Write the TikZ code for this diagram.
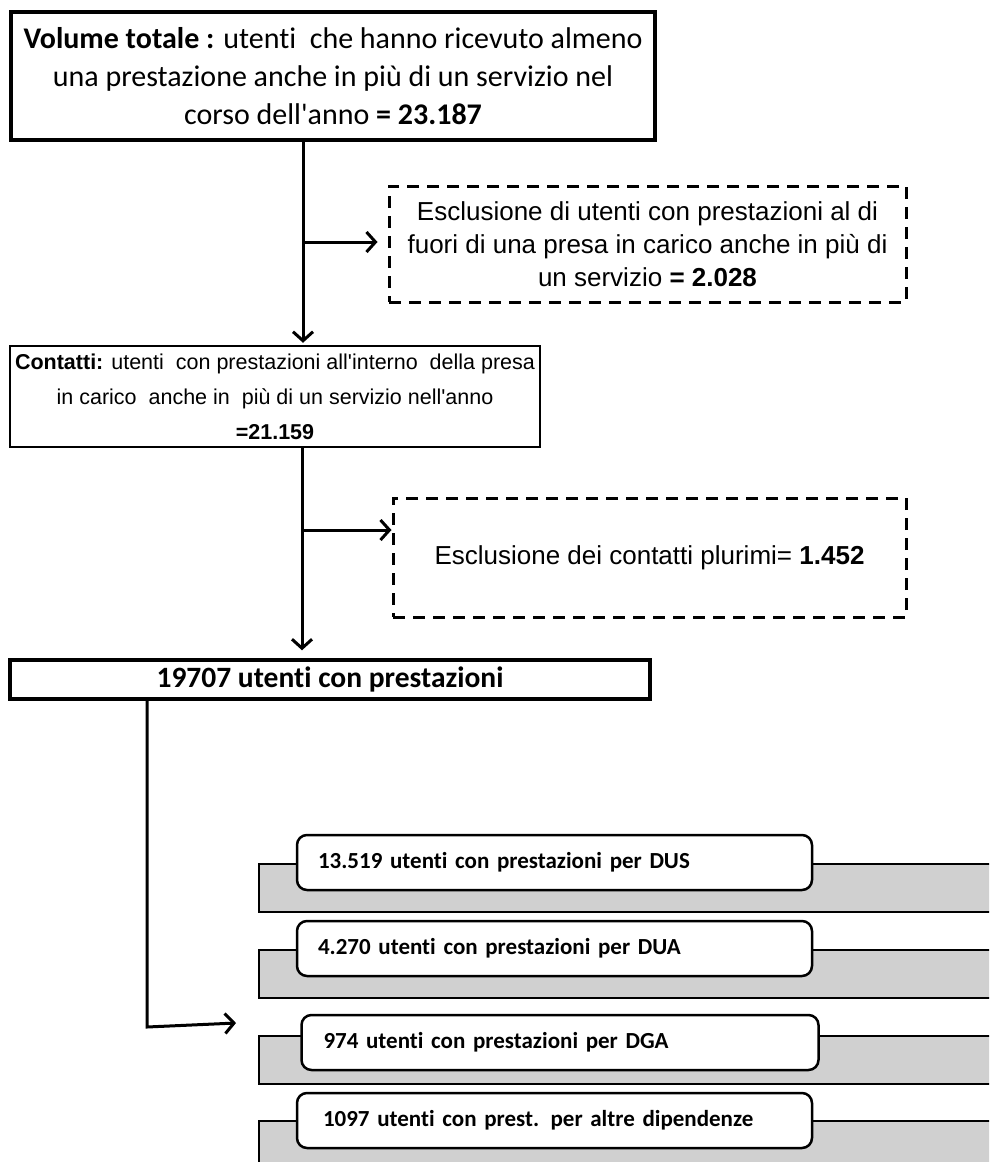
\documentclass[tikz,border=0pt]{standalone}
\usepackage{fontspec}
\setmainfont{Carlito}[Ligatures=NoCommon]
\newfontfamily\arialf{Liberation Sans}
\usetikzlibrary{arrows.meta}
\definecolor{barg}{HTML}{D0D0D0}
\begin{document}
\begin{tikzpicture}[x=1pt,y=-1pt]
\tikzset{
 mainbox/.style={draw, line width=3.5pt, inner sep=0pt, align=center},
 dashbox/.style={draw, line width=3pt, dash pattern=on 12pt off 8pt, inner sep=0pt, align=center, font=\arialf\fontsize{26}{33}\selectfont},
 flow/.style={line width=3pt, -{Straight Barb[length=9pt,width=20pt,line width=3pt]}},
 lab/.style={draw, line width=2.5pt, fill=white, rounded corners=10pt, minimum height=55pt, text width=473pt, align=left, inner sep=0pt, font=\bfseries\fontsize{23}{26}\selectfont},
 bar/.style={draw, line width=2pt, fill=barg, minimum width=740pt, minimum height=48pt, inner sep=0pt, anchor=north west},
}
\useasboundingbox (0,0) rectangle (989,1162);
\fill[white] (0,0) rectangle (989,1162);
\clip (0,0) rectangle (989,1162);

% top boxes
\node[mainbox, minimum width=644pt, minimum height=128pt, font=\fontsize{30}{38}\selectfont] (vol) at (333,76)
 {\textbf{Volume totale :} utenti\ \ che hanno ricevuto almeno\\una prestazione anche in più di un servizio nel\\corso dell\textquotesingle anno \textbf{= 23.187}};
\node[dashbox, minimum width=517pt, minimum height=116pt] (ex1) at (647.5,244)
 {Esclusione di utenti con prestazioni al di\\fuori di una presa in carico anche in più di\\un servizio \textbf{= 2.028}};
\node[mainbox, line width=2.5pt, minimum width=530pt, minimum height=101pt, font=\arialf\fontsize{21.5}{35}\selectfont] (con) at (275,396.5)
 {\textbf{Contatti:} utenti\ \ con prestazioni all'interno\ \ della presa\\in carico\ \ anche in\ \ più di un servizio nell'anno\\\textbf{=21.159}};
\node[dashbox, minimum width=513pt, minimum height=119pt] (ex2) at (649.5,557.5)
 {Esclusione dei contatti plurimi= \textbf{1.452}};
\node[mainbox, minimum width=640pt, minimum height=39pt, font=\bfseries\fontsize{29.5}{32}\selectfont] (tot) at (330,679.5)
 {19707 utenti con prestazioni};

% bars and labels
\node[bar] (bar1) at (258,863) {};
\node[bar] (bar2) at (258,949) {};
\node[bar] (bar3) at (258,1035) {};
\node[bar] (bar4) at (258,1120) {};
\node[lab, minimum width=515pt] (dus) at (554.5,862.5) {13.519 utenti con prestazioni per DUS};
\node[lab, minimum width=515pt] (dua) at (554.5,948.5) {4.270 utenti con prestazioni per DUA};
\node[lab, minimum width=517pt] (dga) at (560,1042.5) {974 utenti con prestazioni per DGA};
\node[lab, minimum width=515pt, text width=463pt] (alt) at (554.5,1120.5) {1097 utenti con prest. per altre dipendenze};

% connectors
\coordinate (t1) at (303,0);
\coordinate (b1) at (0,242);
\coordinate (t2) at (302,0);
\coordinate (b2) at (0,530);
\coordinate (t3) at (147,0);
\coordinate (elb) at (147,1027);
\coordinate (tip) at (236,1023);
\draw[flow, shorten >=2pt] (vol.south -| t1) -- (con.north -| t1);
\draw[flow, shorten >=10pt] (t1 |- b1) -- (ex1.west |- b1);
\draw[flow, shorten >=8pt] (con.south -| t2) -- (tot.north -| t2);
\draw[flow] (t2 |- b2) -- (ex2.west |- b2);
\draw[flow] (tot.south -| t3) -- (elb) -- (tip);
\end{tikzpicture}
\end{document}
